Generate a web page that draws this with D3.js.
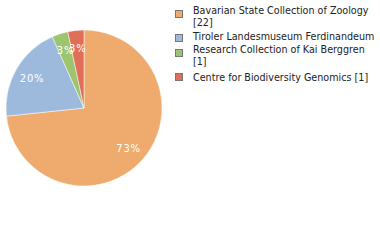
<!DOCTYPE html>
<html><head><meta charset="utf-8">
<script src="https://cdn.jsdelivr.net/npm/d3@7"></script>
<style>body{margin:0;background:#fff}svg{display:block}</style>
</head><body>
<svg id="c" width="380" height="240"></svg>
<script>
const categories = ["Bavarian State Collection of Zoology", "Tiroler Landesmuseum Ferdinandeum", "Research Collection of Kai Berggren", "Centre for Biodiversity Genomics"];
const values = [22, 6, 1, 1];
const legendLines = [["Bavarian State Collection of Zoology", "[22]"], ["Tiroler Landesmuseum Ferdinandeum"], ["Research Collection of Kai Berggren", "[1]"], ["Centre for Biodiversity Genomics [1]"]];
const colors = ["#eeab6d", "#9dbadd", "#9dc46f", "#df7057"];

const svg = d3.select("#c");
const cx = 84, cy = 108, r = 78;
const pie = d3.pie().sort(null).value(d => d)(values);
const arc = d3.arc().innerRadius(0).outerRadius(r);
const labelArc = d3.arc().innerRadius(60).outerRadius(60);
const total = d3.sum(values);
const g = svg.append("g").attr("transform", `translate(${cx},${cy})`);
g.selectAll("path").data(pie).join("path")
  .attr("d", arc).attr("fill", (d, i) => colors[i])
  .attr("stroke", "#fff").attr("stroke-width", 0.5);
g.selectAll("text").data(pie).join("text")
  .attr("transform", d => `translate(${labelArc.centroid(d)})`)
  .attr("text-anchor", "middle").attr("dominant-baseline", "central")
  .attr("font-family", "DejaVu Sans").attr("font-size", 10)
  .attr("fill", "#fff").attr("letter-spacing", 0.8)
  .text(d => Math.round(d.data / total * 100) + "%");

const squareY = [10, 34, 49, 73];
const baseY = [[14, 26], [40], [53, 65], [81]];
const lg = svg.append("g");
categories.forEach((c, i) => {
  lg.append("rect").attr("x", 175.5).attr("y", squareY[i] + 0.5).attr("width", 7).attr("height", 7)
    .attr("fill", colors[i]).attr("stroke", "#777").attr("stroke-width", 1);
  const t = lg.append("text").attr("font-family", "DejaVu Sans")
    .attr("font-size", 9.6).attr("fill", "#222");
  legendLines[i].forEach((line, j) => {
    t.append("tspan").attr("x", 193).attr("y", baseY[i][j]).text(line);
  });
});
</script>
</body></html>
